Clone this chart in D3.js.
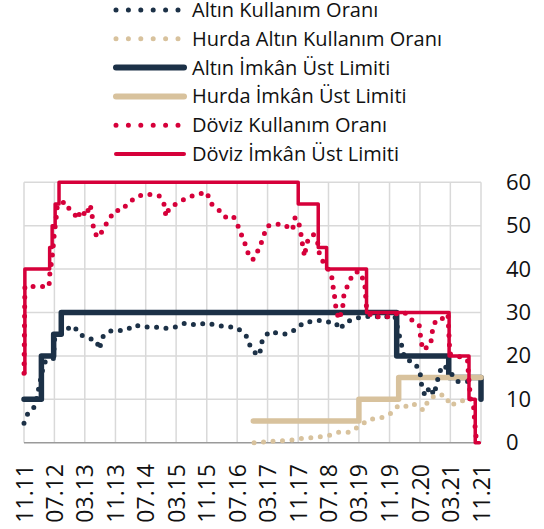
<!DOCTYPE html>
<html>
<head>
<meta charset="utf-8">
<script src="https://cdn.jsdelivr.net/npm/d3@7"></script>
<style>
  body { margin: 0; background: #fff; }
  text { font-family: 'Open Sans', 'Noto Sans', sans-serif; fill: #111; }
</style>
</head>
<body>
<svg id="chart" width="544" height="529"></svg>
<script>
// x axis tick labels (every 8 months)
const tickLabels = ['11.11', '07.12', '03.13', '11.13', '07.14', '03.15', '11.15', '07.16',
  '03.17', '11.17', '07.18', '03.19', '11.19', '07.20', '03.21', '11.21'];
const yTicks = [0, 10, 20, 30, 40, 50, 60];

// Altın İmkân Üst Limiti (step)
const altinLimitDates = ['2011-11-01', '2012-03-19', '2012-06-25', '2012-08-25', '2019-12-28', '2021-02-16', '2021-11-01'];
const altinLimitValues = [10, 20, 25, 30, 20, 15, 10];

// Hurda İmkân Üst Limiti (step)
const hurdaLimitDates = ['2016-11-07', '2019-03-01', '2020-01-13', '2021-11-01'];
const hurdaLimitValues = [5, 10, 15, 15];

// Döviz İmkân Üst Limiti (step)
const dovizLimitDates = ['2011-11-01', '2011-11-08', '2012-05-24', '2012-06-13', '2012-07-07', '2012-08-07',
  '2017-11-01', '2018-04-10', '2018-06-16', '2019-05-01', '2021-02-19', '2021-07-28', '2021-09-16', '2021-10-19'];
const dovizLimitValues = [16, 40, 45, 50, 55, 60, 55, 45, 40, 30, 20, 10, 0, 0];

// Altın Kullanım Oranı
const altinUseDates = ['2011-11-01', '2011-12-04', '2012-01-28', '2012-04-10', '2012-06-22', '2012-07-04',
  '2012-08-16', '2012-09-25', '2012-12-04', '2013-01-16', '2013-03-16', '2013-06-04', '2013-06-25',
  '2013-07-22', '2013-09-19', '2013-11-25', '2014-02-01', '2014-04-01', '2014-06-16', '2014-09-01',
  '2014-11-25', '2015-02-16', '2015-05-16', '2015-08-07', '2015-11-01', '2016-01-19', '2016-04-13',
  '2016-07-01', '2016-09-10', '2016-10-13', '2016-12-10', '2017-01-01', '2017-01-19', '2017-03-16',
  '2017-05-07', '2017-07-25', '2017-10-07', '2017-12-13', '2018-02-25', '2018-05-13', '2018-07-25',
  '2018-08-28', '2018-10-01', '2018-11-07', '2019-01-22', '2019-04-16', '2019-07-13', '2019-10-10',
  '2019-12-13', '2020-03-01', '2020-05-22', '2020-07-01', '2020-07-13', '2020-08-10', '2020-09-19',
  '2020-10-22', '2020-11-13', '2020-12-07', '2021-01-04', '2021-02-07', '2021-04-28', '2021-07-22',
  '2021-09-16'];
const altinUseValues = [4.5, 6.9, 8.4, 18.5, 19.2, 24.4, 25, 26, 26.9, 25, 24.2, 23.5, 21.5, 24.4, 25.7,
  25.8, 26, 27.1, 26.6, 26.7, 26.3, 26.6, 27.6, 27.1, 27.6, 27, 26.7, 26.5, 24.7, 22.3, 20, 21.1, 23.8,
  25.6, 25.3, 25, 26, 27.6, 28, 28.2, 27.6, 27.6, 26.1, 27.6, 28.6, 29.1, 29, 29, 29.2, 19.4, 18.3, 16.4,
  13.5, 10.8, 12.9, 11, 13.8, 16.4, 17.9, 17, 14.1, 14.1, 14];

// Hurda Altın Kullanım Oranı
const hurdaUseDates = ['2016-11-13', '2017-02-13', '2017-05-25', '2017-09-01', '2017-12-07', '2018-03-10',
  '2018-06-16', '2018-09-19', '2018-12-19', '2019-03-04', '2019-05-22', '2019-08-16', '2019-11-04',
  '2020-01-10', '2020-02-25', '2020-04-25', '2020-07-01', '2020-07-28', '2020-09-07', '2020-11-13',
  '2021-01-25', '2021-02-28', '2021-05-16', '2021-07-22'];
const hurdaUseValues = [0, 0.2, 0.4, 0.6, 1, 1.2, 1.5, 2.4, 2.4, 3.8, 5.4, 5.6, 6.6, 8.5, 8.2, 9.1, 8.2,
  7.4, 9.8, 11.2, 10.8, 8.5, 9.6, 9.8];

// Döviz Kullanım Oranı
const dovizUseDates = ['2011-11-01', '2011-11-08', '2011-12-04', '2012-02-25', '2012-05-19', '2012-05-25',
  '2012-06-10', '2012-06-19', '2012-06-28', '2012-07-07', '2012-07-19', '2012-07-25', '2012-08-10',
  '2012-09-25', '2012-10-16', '2012-12-04', '2013-01-01', '2013-01-28', '2013-03-16', '2013-04-07',
  '2013-04-28', '2013-05-01', '2013-05-22', '2013-06-22', '2013-07-22', '2013-09-07', '2013-10-28',
  '2013-12-22', '2014-02-01', '2014-04-01', '2014-06-07', '2014-08-22', '2014-10-19', '2014-11-25',
  '2014-12-10', '2015-01-04', '2015-03-04', '2015-05-19', '2015-08-01', '2015-11-01', '2015-12-04',
  '2016-02-01', '2016-03-13', '2016-04-28', '2016-06-01', '2016-07-10', '2016-08-07', '2016-09-10',
  '2016-10-07', '2016-11-04', '2016-11-25', '2016-12-25', '2017-01-22', '2017-02-25', '2017-04-16',
  '2017-07-04', '2017-09-16', '2017-10-07', '2017-11-04', '2017-11-22', '2017-12-07', '2017-12-22',
  '2018-01-07', '2018-03-01', '2018-04-04', '2018-04-19', '2018-05-07', '2018-06-22', '2018-07-25',
  '2018-08-07', '2018-08-22', '2018-09-01', '2018-09-25', '2018-10-22', '2018-11-01', '2018-12-07',
  '2019-01-16', '2019-03-01', '2019-04-16', '2019-05-01', '2019-06-10', '2019-08-16', '2019-11-10',
  '2020-01-16', '2020-03-01', '2020-04-25', '2020-06-25', '2020-07-07', '2020-07-22', '2020-09-25',
  '2020-10-04', '2020-10-28', '2020-12-07', '2021-01-16', '2021-02-10', '2021-02-25', '2021-05-16',
  '2021-07-16', '2021-07-25', '2021-08-10', '2021-09-01', '2021-09-19', '2021-10-01'];
const dovizUseValues = [16, 36, 36, 36, 36, 38.8, 42, 44.4, 47.5, 49.8, 52.8, 54.8, 55.1, 55.5, 54.2, 53,
  51.5, 53.6, 52.2, 54.9, 53.5, 50.7, 48.1, 47.3, 49, 51.3, 53.5, 53.5, 54.9, 56.3, 57.2, 57.2, 56.8,
  54.9, 52.1, 54, 55.1, 56.3, 57.1, 57.7, 55.1, 53.8, 52.2, 51.7, 52.1, 49.8, 47.7, 45.2, 42.6, 42.2,
  43.6, 44.6, 47.2, 49.9, 50.3, 50.4, 49, 51.9, 50.9, 48.2, 45.3, 42.9, 46.1, 48, 46.3, 43.6, 42.2,
  40.3, 38.6, 35.9, 33, 30.3, 28.4, 31.1, 34, 36.7, 39, 39.5, 37, 31, 29, 29, 29, 30, 30, 28.3, 27.1,
  24.2, 21.4, 22.5, 25.2, 27.7, 27.7, 29.5, 29.5, 20.5, 19.8, 19, 15.2, 10, 9, 2, 0];

const navy = '#1c3147';
const tan = '#d8c29d';
const red = '#d6003a';

const parse = d3.timeParse('%Y-%m-%d');
const parseTick = d3.timeParse('%m.%y');
const zip = (dates, values) => dates.map((d, i) => ({ date: parse(d), value: values[i] }));

const svg = d3.select('#chart');
const plot = { left: 24, right: 481, top: 182.3, bottom: 442.7 };

const tickDates = tickLabels.map((t) => parseTick(t));
const x = d3.scaleTime()
  .domain([tickDates[0], tickDates[tickDates.length - 1]])
  .range([plot.left, plot.right]);
const y = d3.scaleLinear().domain([0, 60]).range([plot.bottom, plot.top]);

// grid
const grid = svg.append('g').attr('class', 'grid');
grid.selectAll('.hgrid')
  .data(yTicks.filter((t) => t > 0))
  .enter()
  .append('line')
  .attr('x1', plot.left)
  .attr('x2', plot.right)
  .attr('y1', (d) => y(d))
  .attr('y2', (d) => y(d))
  .attr('stroke', '#d9d9d9')
  .attr('stroke-width', 1.5);
grid.selectAll('.vgrid')
  .data(tickDates)
  .enter()
  .append('line')
  .attr('x1', (d) => x(d))
  .attr('x2', (d) => x(d))
  .attr('y1', plot.top)
  .attr('y2', plot.bottom)
  .attr('stroke', '#d9d9d9')
  .attr('stroke-width', 1.5);
grid.append('line')
  .attr('x1', plot.left)
  .attr('x2', plot.right)
  .attr('y1', y(0))
  .attr('y2', y(0))
  .attr('stroke', '#9a9a9a')
  .attr('stroke-width', 1.5);

// right axis
const yAxis = d3.axisRight(y).tickValues(yTicks).tickSize(0).tickPadding(0);
const yAxisG = svg.append('g')
  .attr('transform', `translate(${506},0)`)
  .call(yAxis);
yAxisG.select('.domain').remove();
yAxisG.selectAll('text')
  .attr('font-size', 22)
  .attr('font-family', "'Open Sans', sans-serif")
  .attr('fill', '#111');

// x axis labels (rotated)
const xAxis = d3.axisBottom(x)
  .tickValues(tickDates)
  .tickFormat((d, i) => tickLabels[i])
  .tickSize(0);
const xAxisG = svg.append('g')
  .attr('transform', `translate(0,${464})`)
  .call(xAxis);
xAxisG.select('.domain').remove();
xAxisG.selectAll('text')
  .attr('font-size', 23)
  .attr('font-family', "'Open Sans', sans-serif")
  .attr('fill', '#111')
  .attr('transform', 'rotate(-90)')
  .attr('text-anchor', 'end')
  .attr('x', 0)
  .attr('y', 0)
  .attr('dy', '0.35em');

const stepLine = d3.line().x((d) => x(d.date)).y((d) => y(d.value)).curve(d3.curveStepAfter);
const plainLine = d3.line().x((d) => x(d.date)).y((d) => y(d.value));

const series = [
  { data: zip(altinLimitDates, altinLimitValues), gen: stepLine, color: navy, width: 5.5, dotted: false },
  { data: zip(hurdaLimitDates, hurdaLimitValues), gen: stepLine, color: tan, width: 5.5, dotted: false },
  { data: zip(altinUseDates, altinUseValues), gen: plainLine, color: navy, width: 5, dotted: true },
  { data: zip(hurdaUseDates, hurdaUseValues), gen: plainLine, color: tan, width: 5, dotted: true },
  { data: zip(dovizUseDates, dovizUseValues), gen: plainLine, color: red, width: 5, dotted: true },
  { data: zip(dovizLimitDates, dovizLimitValues), gen: stepLine, color: red, width: 3.5, dotted: false },
];

series.forEach((s) => {
  svg.append('path')
    .attr('d', s.gen(s.data))
    .attr('fill', 'none')
    .attr('stroke', s.color)
    .attr('stroke-width', s.width)
    .attr('stroke-linecap', 'round')
    .attr('stroke-linejoin', 'round')
    .attr('stroke-dasharray', s.dotted ? '0,9.5' : null);
});

// legend
const legendItems = [
  { label: 'Altın Kullanım Oranı', color: navy, width: 5, dotted: true },
  { label: 'Hurda Altın Kullanım Oranı', color: tan, width: 5, dotted: true },
  { label: 'Altın İmkân Üst Limiti', color: navy, width: 6, dotted: false },
  { label: 'Hurda İmkân Üst Limiti', color: tan, width: 6, dotted: false },
  { label: 'Döviz Kullanım Oranı', color: red, width: 5, dotted: true },
  { label: 'Döviz İmkân Üst Limiti', color: red, width: 4, dotted: false },
];

const legend = svg.append('g').attr('class', 'legend');
const rows = legend.selectAll('g')
  .data(legendItems)
  .enter()
  .append('g')
  .attr('transform', (d, i) => `translate(0,${10 + i * 28.8})`);

rows.append('line')
  .attr('x1', 116)
  .attr('x2', (d) => (d.dotted ? 178.5 : 184))
  .attr('y1', 0)
  .attr('y2', 0)
  .attr('stroke', (d) => d.color)
  .attr('stroke-width', (d) => d.width)
  .attr('stroke-linecap', 'round')
  .attr('stroke-dasharray', (d) => (d.dotted ? '0,12.4' : null));

rows.append('text')
  .attr('x', 192)
  .attr('y', 0)
  .attr('dy', '0.35em')
  .attr('font-size', 20)
  .text((d) => d.label);
</script>
</body>
</html>
